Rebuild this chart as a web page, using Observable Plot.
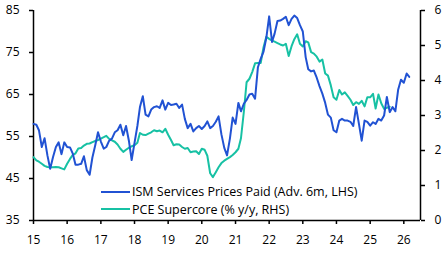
<!DOCTYPE html>
<html>
<head>
<meta charset="utf-8">
<script src="https://cdn.jsdelivr.net/npm/d3@7"></script>
<script src="https://cdn.jsdelivr.net/npm/@observablehq/plot@0.6"></script>
<style>
  html, body { margin: 0; padding: 0; background: #fff; }
  #chart { position: relative; width: 448px; height: 253px; font-family: "Open Sans", sans-serif; }
  #legend { position: absolute; left: 101px; top: 183px; font-size: 12.5px; color: #000; line-height: 17.6px; }
  #legend .item { display: flex; align-items: center; white-space: nowrap; }
  #legend .swatch { width: 29px; height: 2px; margin-right: 2px; }
</style>
</head>
<body>
<div id="chart"><div id="legend"></div></div>
<script>
// ISM services prices paid, advanced 6 months (LHS), monthly from Jan 2015
const ismStart = [2015, 0];
const ismValues = [
  58, 57.8, 56.5, 52.5, 54.6, 50.5, 47.3, 50.1, 52.5, 53.6, 50.8, 53.6,
  52.5, 52.4, 51.0, 48.3, 48.3, 48.5, 50.3, 47, 45.9, 50, 52.9, 56,
  53.8, 52.1, 52.5, 54, 54.5, 56, 56.5, 57.8, 55.3, 57.5, 54, 49.4,
  53.5, 57.5, 62, 64.6, 60.2, 59.8, 61.4, 62, 62.2, 61.8, 63.6, 61.4,
  63, 62.5, 62.6, 62.8, 61.8, 62.6, 59.2, 57, 58, 56.2, 57, 57.5,
  56.8, 57.5, 58.6, 57, 57.5, 58.5, 59.8, 55.5, 52.3, 50.5, 54.5, 59.5,
  58, 63, 61, 62.8, 63.7, 65, 65.2, 64, 71.5, 73.5, 75.2, 78.5,
  83.6, 77.5, 79.5, 82.5, 82.6, 83, 83.5, 81.5, 83, 83.8, 83.2, 81.5,
  80, 73.9, 71, 70.5, 70.7, 69, 67, 65.2, 63, 60.2, 59.5, 56.5,
  56, 58.8, 59.2, 58.8, 58.8, 58.5, 57.5, 62, 58, 54, 58.8, 58.5,
  57.6, 58.4, 58, 59.2, 58.8, 60, 64.4, 60.8, 62, 61, 66.2, 68.5,
  67.8, 70, 69.2
];

// PCE supercore inflation, % y/y (RHS), monthly from Jan 2015
const pceStart = [2015, 0];
const pceValues = [
  1.81, 1.72, 1.68, 1.62, 1.56, 1.53, 1.52, 1.52, 1.53, 1.52, 1.49, 1.46,
  1.62, 1.76, 1.87, 1.92, 2.06, 2.07, 2.14, 2.19, 2.2, 2.24, 2.27, 2.3,
  2.34, 2.38, 2.42, 2.33, 2.29, 2.25, 2.17, 2.05, 1.96, 2.02, 2.08, 2.12,
  2.15, 2.22, 2.5, 2.45, 2.44, 2.48, 2.52, 2.58, 2.55, 2.57, 2.52, 2.62,
  2.45, 2.3, 2.15, 2.18, 2.17, 2.1, 2.05, 2.07, 1.95, 1.97, 1.98, 1.9,
  2.05, 2.02, 1.85, 1.35, 1.24, 1.38, 1.52, 1.64, 1.71, 1.76, 1.81, 1.87,
  1.95, 2.05, 2.35, 3.1, 3.95, 4.05, 4.24, 4.49, 4.5, 4.5, 4.95, 5.25,
  5.19, 5.14, 5.11, 5.07, 5.03, 5.0, 5.05, 4.7, 4.98, 5.18, 5.32, 5.05,
  4.97, 5.12, 5.09, 4.81, 4.77, 4.68, 4.54, 4.6, 4.2, 4.14, 3.86, 3.52,
  3.45, 3.73, 3.6, 3.66, 3.56, 3.45, 3.3, 3.38, 3.33, 3.42, 3.26, 3.52,
  3.52, 3.62, 3.2, 3.6, 3.35, 3.19, 3.22, 3.25
];

// Axis ticks and labels
const leftTicks = [35, 45, 55, 65, 75, 85];
const rightTicks = [0, 1, 2, 3, 4, 5, 6];
const yearTicks = [2015, 2016, 2017, 2018, 2019, 2020, 2021, 2022, 2023, 2024, 2025, 2026];
const xStart = [2015, 0];
const xEnd = [2026, 6];

const seriesNames = ["ISM Services Prices Paid (Adv. 6m, LHS)", "PCE Supercore (% y/y, RHS)"];
const seriesColors = ["#2152d3", "#17c1a4"];

// Right-hand scale (0–6) is mapped onto the left-hand range (35–85)
const leftLo = leftTicks[0], leftHi = leftTicks[leftTicks.length - 1];
const rightLo = rightTicks[0], rightHi = rightTicks[rightTicks.length - 1];
const toLeft = v => leftLo + (v - rightLo) * (leftHi - leftLo) / (rightHi - rightLo);
const toRight = v => rightLo + (v - leftLo) * (rightHi - rightLo) / (leftHi - leftLo);

const month = ([y, m], i) => new Date(Date.UTC(y, m + i, 1));
const ism = ismValues.map((v, i) => ({date: month(ismStart, i), value: v}));
const pce = pceValues.map((v, i) => ({date: month(pceStart, i), value: toLeft(v)}));
const x0 = month(xStart, 0), x1 = month(xEnd, 0);
const years = yearTicks.map(y => new Date(Date.UTC(y, 0, 1)));

const chart = Plot.plot({
  width: 448,
  height: 253,
  marginLeft: 33,
  marginRight: 28,
  marginTop: 10,
  marginBottom: 33,
  style: {fontFamily: "Open Sans, sans-serif", fontSize: "12px", color: "#000", background: "#fff"},
  x: {type: "utc", domain: [x0, x1]},
  y: {domain: [leftLo, leftHi]},
  marks: [
    Plot.axisY(leftTicks, {anchor: "left", tickSize: 4, tickPadding: 10, label: null, strokeWidth: 1.5}),
    Plot.axisY(rightTicks.map(toLeft), {anchor: "right", tickSize: 4, tickPadding: 10, label: null, strokeWidth: 1.5,
      tickFormat: d => String(Math.round(toRight(d)))}),
    Plot.axisX(years, {anchor: "bottom", tickSize: 4, tickPadding: 11, label: null, strokeWidth: 1.5,
      tickFormat: d => String(d.getUTCFullYear()).slice(2)}),
    Plot.ruleX([x0, x1], {stroke: "#000", strokeWidth: 1.5}),
    Plot.ruleY([leftLo], {stroke: "#000", strokeWidth: 1.5}),
    Plot.lineY(pce, {x: "date", y: "value", stroke: seriesColors[1], strokeWidth: 2}),
    Plot.lineY(ism, {x: "date", y: "value", stroke: seriesColors[0], strokeWidth: 2})
  ]
});
document.getElementById("chart").prepend(chart);

// Legend placed inside the plot area, below the lines
const legend = document.getElementById("legend");
seriesNames.forEach((name, i) => {
  const item = document.createElement("div");
  item.className = "item";
  const sw = document.createElement("span");
  sw.className = "swatch";
  sw.style.background = seriesColors[i];
  const label = document.createElement("span");
  label.textContent = name;
  item.append(sw, label);
  legend.append(item);
});
</script>
</body>
</html>
